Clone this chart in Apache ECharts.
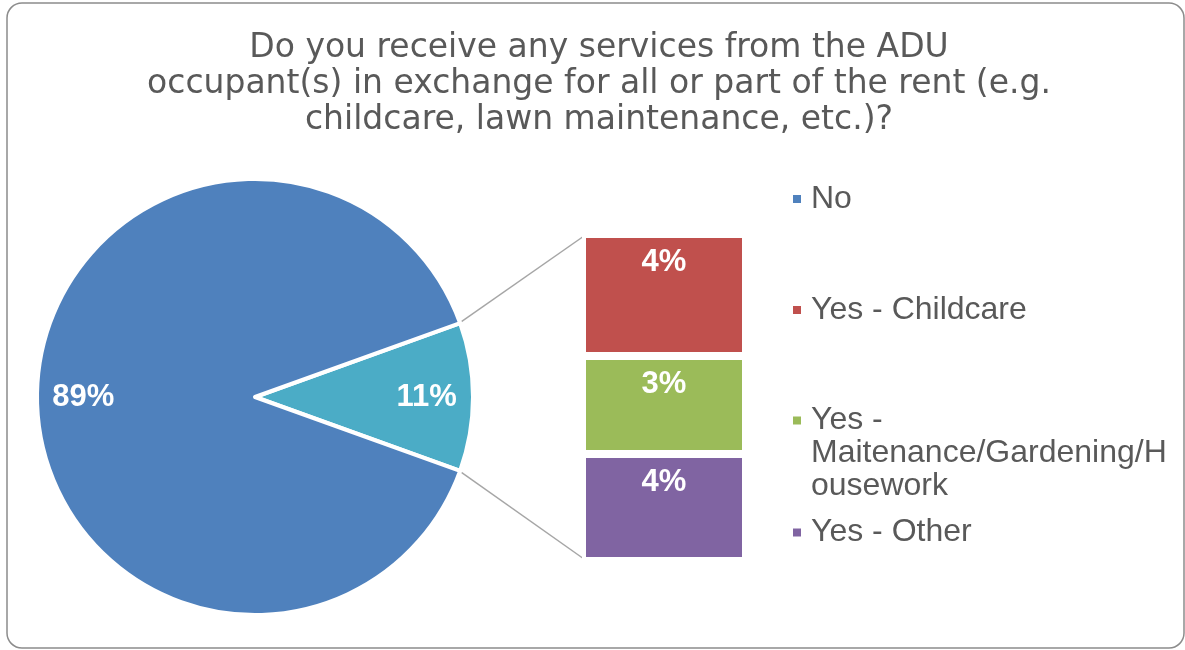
<!DOCTYPE html>
<html><head><meta charset="utf-8">
<script src="https://cdn.jsdelivr.net/npm/echarts@6/dist/echarts.min.js"></script>
<style>html,body{margin:0;padding:0;background:#fff}#c{width:1185px;height:650px}</style>
</head><body><div id="c"></div>
<script>
// ---- data ----
const titleText = 'Do you receive any services from the ADU\noccupant(s) in exchange for all or part of the rent (e.g.\nchildcare, lawn maintenance, etc.)?';
const pieName = 'No';
const pieValue = 89;
const barNames = ['Yes - Childcare', 'Yes - Maitenance/Gardening/Housework', 'Yes - Other'];
const barValues = [4.1, 3.3, 3.6];
const legendNames = ['No', 'Yes - Childcare', 'Yes - Maitenance/Gardening/Housework', 'Yes - Other'];
const legendLabels = ['No', 'Yes - Childcare', '\n\nYes -\nMaitenance/Gardening/H\nousework', 'Yes - Other'];
const pieColors = ['#4BACC6', '#4F81BD'];
const barColors = ['#C0504D', '#9BBB59', '#8064A2'];

// ---- layout ----
const FONT = "'Liberation Sans', Arial, Helvetica, sans-serif";
const TITLE_FONT = "'DejaVu Sans', 'Liberation Sans', sans-serif";
const CX = 255, CY = 397, R = 218, PIE_BORDER = 4;
const G_LEFT = 582, G_TOP = 234, G_W = 164, G_H = 327, BAR_BORDER = 4;
const LH = 33;

const yesTotal = barValues.reduce((a, b) => a + b, 0);
const total = yesTotal + pieValue;
const halfAngleDeg = 360 * yesTotal / total / 2;

const chart = echarts.init(document.getElementById('c'), null, {renderer: 'canvas'});

const legendTops = [182.5, 293.5, 338, 516];
const legends = legendNames.map((n, i) => ({
  data: [n],
  orient: 'vertical',
  left: 791,
  top: legendTops[i],
  padding: 0,
  icon: 'rect',
  itemWidth: 10,
  itemHeight: 10,
  selectedMode: false,
  formatter: () => legendLabels[i],
  textStyle: {
    fontSize: 32, color: '#595959', fontFamily: FONT, lineHeight: LH,
    padding: [0, 0, 0, 4]
  }
}));

const option = {
  backgroundColor: '#ffffff',
  animation: false,
  title: {
    text: titleText,
    left: 599,
    textAlign: 'center',
    top: 30,
    padding: 0,
    textStyle: {fontSize: 33, fontWeight: 'normal', color: '#595959', lineHeight: 36, fontFamily: TITLE_FONT}
  },
  legend: legends,
  grid: {left: G_LEFT, top: G_TOP, width: G_W, height: G_H},
  xAxis: {type: 'category', data: ['Yes'], show: false},
  yAxis: {type: 'value', min: 0, max: yesTotal, inverse: true, show: false},
  series: [
    {
      type: 'pie',
      center: [CX, CY],
      radius: [0, R],
      startAngle: halfAngleDeg,
      clockwise: true,
      silent: true,
      itemStyle: {borderColor: '#ffffff', borderWidth: PIE_BORDER},
      label: {
        show: true, position: 'inside', color: '#ffffff', fontSize: 31, fontWeight: 'bold', fontFamily: FONT,
        formatter: p => Math.round(p.percent) + '%'
      },
      labelLayout: function (p) {
        const vals = [yesTotal, pieValue];
        let start = halfAngleDeg;
        for (let k = 0; k < p.dataIndex; k++) start -= 360 * vals[k] / total;
        const mid = (start - 180 * vals[p.dataIndex] / total) * Math.PI / 180;
        const rl = 0.795 * (R - PIE_BORDER / 2);
        return {x: CX + rl * Math.cos(mid), y: CY - rl * Math.sin(mid), align: 'center', verticalAlign: 'middle'};
      },
      data: [
        {name: 'Yes', value: yesTotal, itemStyle: {color: pieColors[0]}},
        {name: pieName, value: pieValue, itemStyle: {color: pieColors[1]}}
      ]
    }
  ].concat(barNames.map((n, i) => ({
    type: 'bar',
    name: n,
    stack: 'yes',
    barWidth: '100%',
    silent: true,
    itemStyle: {color: barColors[i], borderColor: '#ffffff', borderWidth: BAR_BORDER},
    label: {
      show: true, position: 'insideTop', distance: 13, color: '#ffffff', fontSize: 31, fontWeight: 'bold', fontFamily: FONT,
      formatter: p => Math.round(p.value) + '%'
    },
    data: [barValues[i]]
  })))
};
chart.setOption(option);

// connector lines from the pie's "Yes" slice to the stacked bar
const a = halfAngleDeg * Math.PI / 180;
const rv = R - PIE_BORDER / 2;
const pUp = [CX + rv * Math.cos(a), CY - rv * Math.sin(a)];
const pDn = [CX + rv * Math.cos(a), CY + rv * Math.sin(a)];
const yTop = chart.convertToPixel({yAxisIndex: 0}, 0) + BAR_BORDER / 2;
const yBot = chart.convertToPixel({yAxisIndex: 0}, yesTotal) - BAR_BORDER / 2;
const xBar = G_LEFT + BAR_BORDER / 2;
chart.setOption({
  graphic: [
    {type: 'line', shape: {x1: pUp[0], y1: pUp[1], x2: xBar, y2: yTop}, style: {stroke: '#A6A6A6', lineWidth: 1.5}, silent: true},
    {type: 'line', shape: {x1: pDn[0], y1: pDn[1], x2: xBar, y2: yBot}, style: {stroke: '#A6A6A6', lineWidth: 1.5}, silent: true},
    {type: 'rect', shape: {x: 7, y: 3, width: 1177, height: 645, r: 15}, style: {fill: 'none', stroke: '#8C8C8C', lineWidth: 1.5}, silent: true, z: 100}
  ]
});
</script></body></html>
